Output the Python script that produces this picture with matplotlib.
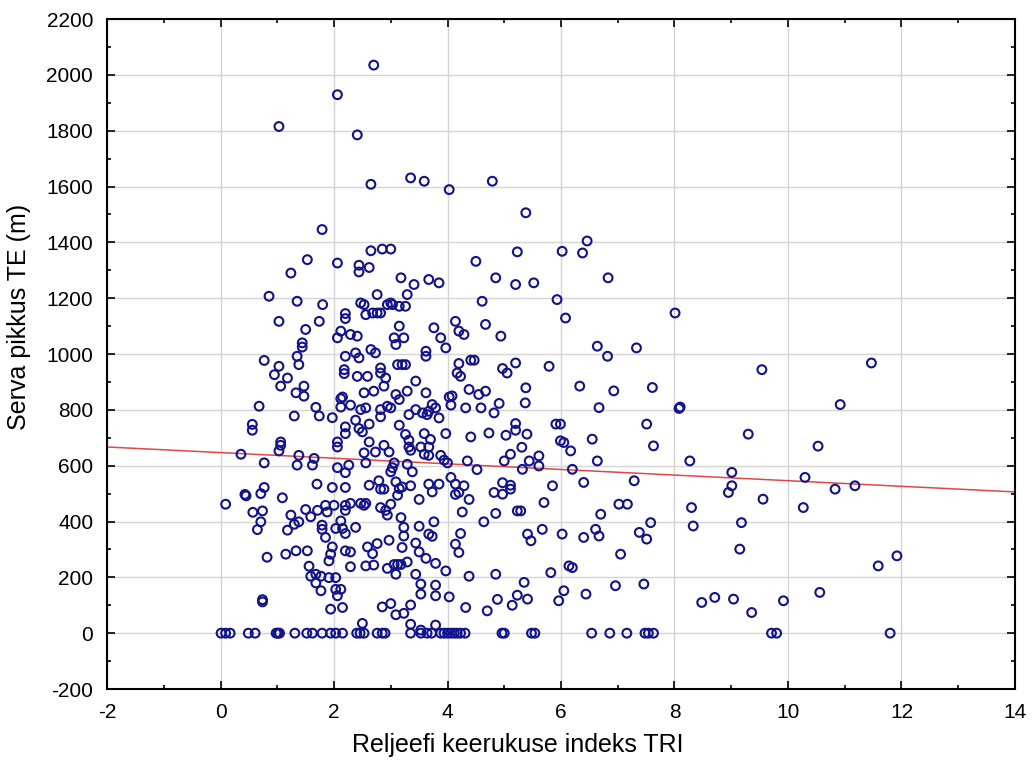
import matplotlib
matplotlib.use('Agg')
import matplotlib.pyplot as plt
from matplotlib.ticker import MultipleLocator

plt.rcParams['font.family'] = ['Liberation Sans', 'DejaVu Sans']
plt.rcParams['axes.unicode_minus'] = False

# points lying on zero length
tri_zero = [0.01, 0.09, 0.17, 0.49, 0.61, 0.98, 1.01, 1.04, 1.31, 1.52, 1.62, 1.79, 1.94, 2.03,
            2.15, 2.40, 2.46, 2.53, 2.76, 2.85, 2.90, 3.35, 3.53, 3.64, 3.72, 3.88, 3.94, 4.00,
            4.06, 4.12, 4.17, 4.23, 4.31, 4.96, 5.00, 5.48, 5.54, 6.54, 6.86, 7.16, 7.48, 7.54,
            7.63, 9.71, 9.80, 11.80]
len_zero = [0] * len(tri_zero)

# the other points, (TRI, length) pairs
pts = [
    (2.06,1929),(1.03,1815),(1.79,1446),(2.70,2035),(2.41,1785),(2.65,1608),(3.35,1631),(3.59,1619),
    (4.03,1589),(4.79,1619),(2.65,1370),(2.85,1376),(3.00,1376),(5.23,1366),
    (1.53,1338),(2.06,1326),(1.24,1290),(0.855,1207),(1.35,1189),(1.80,1177),(2.20,1145),(2.20,1127),
    (1.03,1117),(1.74,1117),(1.50,1088),(2.12,1082),(2.06,1058),(1.44,1040),(1.44,1025),(1.35,992),
    (1.38,962),(0.77,977),(1.03,956),(0.95,926),(1.18,914),(1.06,885),(1.47,885),(1.33,861),
    (1.47,849),(2.20,992),(2.18,944),(2.18,930),(2.15,846),(2.12,840),(2.12,810),(0.68,813),
    (1.68,809),(1.74,778),(1.30,778),(1.97,772),(0.56,748),(0.56,727),(2.20,739),(2.20,715),
    (1.06,685),(1.06,673),(2.06,685),(2.06,667),
    (0.36,641),(1.03,653),(1.38,637),(1.35,602),(1.65,626),(1.62,602),(0.77,610),(2.06,593),
    (2.20,575),(2.26,602),(1.70,534),(1.97,522),(2.20,522),(0.77,522),(0.71,500),(0.43,497),
    (0.45,492),(1.09,485),(0.09,462),(0.57,433),(0.74,438),(0.71,399),(0.65,371),(1.24,423),
    (1.38,399),(1.30,390),(1.18,369),(1.50,443),(1.71,440),(1.85,458),(2.00,458),(1.88,434),
    (1.59,417),(2.20,458),(2.20,440),(1.79,387),(1.79,372),(1.85,343),(2.03,375),(2.15,375),
    (2.12,402),(2.20,357),(0.82,272),(1.15,283),(1.33,295),(1.53,295),(1.97,309),(1.94,283),
    (1.91,259),(2.20,295),(1.56,240),(1.59,204),(1.68,211),(1.77,204),(1.68,180),(1.77,152),
    (1.91,199),(2.03,199),(2.03,157),(2.12,157),(2.06,134),(0.74,112),(0.74,120),(1.94,86),(2.15,92),
    (4.50,1332),(2.44,1318),(2.44,1294),(2.62,1310),(3.18,1273),(3.67,1267),(3.85,1255),(3.41,1249),
    (4.85,1273),(5.20,1249),(2.76,1213),(3.29,1213),(2.47,1183),(2.53,1177),(2.56,1141),(2.68,1147),
    (2.76,1147),(2.82,1147),(2.94,1177),(3.00,1183),(3.03,1177),(3.15,1171),(3.26,1171),(4.61,1189),
    (4.14,1117),(4.67,1106),(4.20,1082),(4.29,1070),(4.94,1064),(3.76,1094),(3.88,1058),(3.97,1022),
    (3.15,1100),(3.06,1058),(3.23,1058),(3.09,1034),(2.29,1070),(2.41,1064),(3.62,1010),(3.62,992),
    (2.38,1004),(2.44,986),(2.65,1016),(2.73,1004),(3.12,962),(3.20,962),(3.26,962),(2.82,950),
    (2.82,932),(2.91,914),(2.41,920),(2.59,920),(3.44,903),(4.20,966),(4.17,932),(4.23,920),
    (4.41,978),(4.47,978),(4.97,948),(5.05,932),(5.20,968),(2.53,861),(2.70,867),(2.88,885),
    (3.09,855),(3.15,837),(3.29,867),(3.62,861),(4.38,873),(4.55,855),(4.67,867),(4.03,846),
    (4.08,850),(4.06,817),(2.29,817),(2.47,801),(2.56,807),(2.82,801),(2.94,813),(3.00,807),
    (3.32,783),(3.44,801),(3.56,789),(3.64,783),(3.67,795),(3.73,819),(3.79,807),(3.85,771),
    (4.32,807),(4.59,807),(4.82,789),(4.91,823),(2.82,775),(2.38,763),(2.44,733),(2.62,749),
    (2.50,721),(3.15,745),(3.26,712),(3.32,691),(3.59,715),(3.70,694),(3.97,715),(4.41,703),
    (4.73,717),(5.03,709),(5.20,751),(5.20,727),(2.62,685),(2.88,673),(3.32,667),(3.53,667),(3.67,667),
    (2.53,646),(2.73,649),(2.97,649),(3.35,655),(3.59,641),(3.67,637),(3.88,637),(4.00,610),
    (3.94,620),(2.56,610),(3.06,610),(3.03,593),(3.00,578),(3.29,605),(3.38,578),(4.35,617),
    (4.52,586),(5.00,617),(5.11,641),(2.62,530),(2.79,546),(2.82,516),(2.88,516),(3.09,542),
    (3.15,518),(3.12,494),(3.20,524),(3.35,528),(3.67,534),(3.85,534),(3.73,506),(4.06,558),
    (4.14,534),(4.29,528),(4.20,504),(4.14,497),(4.38,479),(4.97,539),(5.11,530),(5.11,516),
    (4.82,504),(4.97,498),(3.50,479),(2.29,465),(2.47,465),(2.53,458),(2.56,465),(2.82,450),
    (2.91,440),(3.00,462),(2.94,423),(4.26,434),(4.85,429),(5.23,438),(4.64,399),(3.18,414),
    (3.23,379),(3.23,348),(3.20,307),(3.50,383),(3.76,399),(3.67,355),(3.73,347),(2.38,379),
    (4.23,357),(4.14,319),(4.20,289),(2.97,333),(2.76,321),(2.59,309),(2.68,285),(2.70,244),
    (2.56,241),(2.29,291),(2.29,238),(3.44,323),(3.50,291),(3.62,268),(3.79,250),(3.97,223),
    (3.06,246),(3.12,246),(3.18,246),(3.09,211),(3.29,255),(2.94,232),(3.44,211),(3.53,176),
    (3.53,140),(3.79,172),(3.79,134),(4.03,130),(4.38,204),(4.85,211),(2.85,94),(3.00,106),
    (3.09,66),(3.23,71),(3.35,101),(4.32,92),(4.70,80),(4.88,121),(5.14,100),(5.23,136),
    (2.50,35),(3.35,32),(3.79,29),(3.53,11),
    (5.38,1506),(6.46,1405),(6.02,1368),(6.38,1362),(5.52,1255),(6.83,1273),(5.93,1195),(6.08,1129),
    (8.01,1147),(6.64,1028),(6.82,992),(7.33,1022),(5.79,956),(9.54,944),(5.38,879),(6.33,885),
    (6.93,868),(7.61,880),
    (5.37,825),(6.67,808),(8.08,805),(8.10,810),(5.91,749),(5.99,749),(7.51,749),(9.30,713),
    (5.40,713),(5.99,689),(6.05,683),(6.17,653),(6.55,695),(7.63,671),(5.31,666),(5.61,635),
    (5.44,617),(5.61,599),(5.32,587),(6.20,587),(6.64,617),(8.27,617),(6.40,540),(5.85,528),
    (7.29,546),(9.01,576),(9.01,528),(8.95,504),(9.56,480),(5.70,468),(7.02,462),(7.17,462),
    (6.70,426),(8.30,450),(8.33,384),(5.29,438),(9.18,396),(9.15,301),(5.67,372),(5.41,355),
    (5.47,331),(6.02,355),(6.40,343),(6.61,372),(6.67,348),(7.38,361),(7.51,337),(7.58,396),
    (7.05,283),(6.14,241),(6.20,235),(5.82,217),(5.35,182),(5.41,122),(6.05,152),(5.96,116),
    (6.44,140),(6.96,170),(7.46,176),(8.48,110),(8.71,128),(9.04,122),(9.36,74),
    (11.47,968),(10.92,819),(10.53,670),(10.30,558),(10.83,516),(11.18,528),(10.27,450),
    (11.92,277),(11.59,241),(10.56,146),(9.92,116),
]
tri = [p[0] for p in pts] + tri_zero
length = [p[1] for p in pts] + len_zero

# fitted line
fit_x = [-2, 14]
fit_y = [667, 506]

fig = plt.figure(figsize=(10.32, 7.62), dpi=100)
ax = fig.add_axes([0.1037, 0.0958, 0.8798, 0.8792])

ax.scatter(tri, length, s=40, facecolors='none', edgecolors='#12128c', linewidths=1.5, zorder=3)
ax.plot(fit_x, fit_y, color='#e04848', lw=1.1, zorder=2)

ax.set_xlim(-2, 14)
ax.set_ylim(-200, 2200)
ax.xaxis.set_major_locator(MultipleLocator(2))
ax.xaxis.set_minor_locator(MultipleLocator(1))
ax.yaxis.set_major_locator(MultipleLocator(200))
ax.yaxis.set_minor_locator(MultipleLocator(100))
ax.grid(True, which='major', color='#d4d4d4', lw=1)
ax.set_axisbelow(True)
ax.tick_params(which='both', direction='in', top=True, right=True, labelsize=15, width=1.2)
ax.tick_params(which='major', length=6)
ax.tick_params(which='minor', length=3)
ax.tick_params(axis='x', pad=10)
ax.tick_params(axis='y', pad=10)
for s in ax.spines.values():
    s.set_linewidth(1.5)

ax.set_xlabel('Reljeefi keerukuse indeks TRI', fontsize=18)
ax.xaxis.set_label_coords(0.452, -0.066)
ax.set_ylabel('Serva pikkus TE (m)', fontsize=18)
ax.yaxis.set_label_coords(-0.084, 0.555)

fig.savefig('out.png', dpi=100)
